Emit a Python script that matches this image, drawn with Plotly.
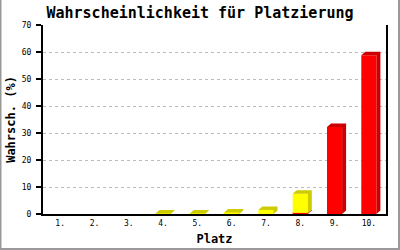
import plotly.graph_objects as go

# ---- data ----
categories = ["1.", "2.", "3.", "4.", "5.", "6.", "7.", "8.", "9.", "10."]
yellow_vals = [0, 0, 0, 0.2, 0.2, 0.6, 1.5, 7.1, 0, 0]
red_vals = [0, 0, 0, 0, 0, 0, 0, 0.4, 32.2, 58.8]
y_ticks = [0, 10, 20, 30, 40, 50, 60, 70]

# ---- layout constants ----
W, H = 400, 250
ML, MR, MT, MB = 43, 14, 25, 36
PW, PH = W - ML - MR, H - MT - MB
YMAX = 70
BARW = 0.44
DX_PX, DY_PX = 4, 3.5
dx = DX_PX / (PW / len(categories))
dy = DY_PX / (PH / YMAX)

FONT = "DejaVu Sans Mono"
xs = list(range(1, len(categories) + 1))

fig = go.Figure()

series = [("red", red_vals, "#FF0000", "#CC0000"),
          ("yellow", yellow_vals, "#FFFF00", "#CCCC00")]

base = [0.0] * len(xs)
totals = [sum(s[1][i] for s in series) for i in range(len(xs))]
for name, vals, front, dark in series:
    fig.add_trace(go.Bar(x=xs, y=vals, base=base, width=BARW,
                         marker=dict(color=front, line=dict(width=0)),
                         showlegend=False, hoverinfo="skip"))
    for x, v, b, t in zip(xs, vals, base, totals):
        if v <= 0:
            continue
        l, r = x - BARW / 2, x + BARW / 2
        top = b + v
        if top >= t - 1e-9:
            px = [l, l + dx, r + dx, r + dx, r, r, l]
            py = [top, top + dy, top + dy, b + dy, b, top, top]
        else:
            px = [r, r + dx, r + dx, r, r]
            py = [b, b + dy, top + dy, top, b]
        fig.add_trace(go.Scatter(x=px, y=py, mode="lines", fill="toself",
                                 fillcolor=dark, line=dict(width=0, color=dark),
                                 showlegend=False, hoverinfo="skip"))
    base = [bb + vv for bb, vv in zip(base, vals)]

# outer frame (left, bottom, right), in paper coords
fx0 = (0.5 - ML) / PW
fx1 = (W - 1 - ML) / PW
fy0 = -(MB - 1) / PH
fy1 = (H - MB) / PH
fig.update_layout(
    width=W, height=H,
    margin=dict(l=ML, r=MR, t=MT, b=MB, autoexpand=False),
    paper_bgcolor="white", plot_bgcolor="white",
    barmode="overlay",
    title=dict(text="<b>Wahrscheinlichkeit für Platzierung</b>",
               x=0.5, xref="container", xanchor="center",
               y=1 - 13 / H, yanchor="middle", automargin=False,
               font=dict(family=FONT, size=15, color="black")),
    font=dict(family=FONT, color="black"),
    shapes=[
        dict(type="path", xref="paper", yref="paper",
             path=f"M {fx0} {fy1} L {fx0} {fy0} L {fx1} {fy0} L {fx1} {fy1}",
             line=dict(color="#999999", width=2), layer="below"),
    ],
)

fig.update_xaxes(range=[0.5, 10.5], tickvals=xs, ticktext=categories,
                 showgrid=False, zeroline=False, automargin=False,
                 showline=True, linecolor="black", linewidth=2,
                 ticks="", tickfont=dict(size=8),
                 title=dict(text="<b>Platz</b>", font=dict(size=12), standoff=8))
fig.update_yaxes(range=[0, YMAX], tickvals=y_ticks, automargin=False,
                 showgrid=True, gridcolor="#BBBBBB", griddash="dot", gridwidth=1,
                 zeroline=False,
                 showline=True, linecolor="black", linewidth=2, mirror=True,
                 ticks="outside", ticklen=5, tickcolor="black", tickwidth=2,
                 tickfont=dict(size=8), ticklabelstandoff=3,
                 title=dict(text="<b>Wahrsch. (%)</b>", font=dict(size=12), standoff=4))

fig.write_html("out.html")
